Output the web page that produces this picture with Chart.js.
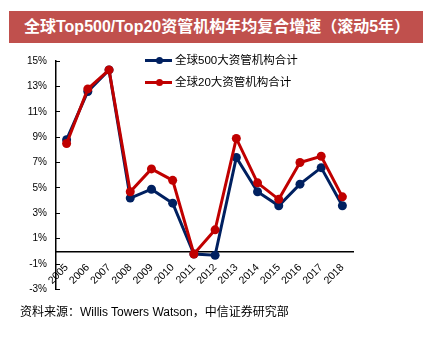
<!DOCTYPE html>
<html>
<head>
<meta charset="utf-8">
<script src="https://cdn.jsdelivr.net/npm/chart.js@4/dist/chart.umd.min.js"></script>
<style>
  html, body { margin:0; padding:0; background:#fff; }
  body { width:445px; height:359px; position:relative; overflow:hidden;
         font-family:"Liberation Sans", Arial, "Noto Sans CJK SC", sans-serif; }
  #title { position:absolute; left:9px; top:11px; width:414px; height:32px; background:#C0504D;
           color:#fff; font-weight:bold; font-size:16px; line-height:32px; padding-left:15px; box-sizing:border-box;
           white-space:nowrap; }
  #wrap { position:absolute; left:0; top:0; width:445px; height:359px; }
  #src { position:absolute; left:20px; top:302px; font-size:12px; color:#000; white-space:nowrap; }
  .leg { position:absolute; left:145px; font-size:11.5px; color:#000; white-space:nowrap; height:14px; line-height:14px; }
  .leg .ln { position:absolute; left:0; top:6px; width:27px; height:3px; }
  .leg .dt { position:absolute; left:11px; top:4px; width:7px; height:7px; border-radius:50%; }
  .leg .tx { position:absolute; left:30px; top:0; }
</style>
</head>
<body>
<div id="wrap"><canvas id="c" width="445" height="359"></canvas></div>
<div id="title">全球Top500/Top20资管机构年均复合增速（滚动5年）</div>
<div class="leg" style="top:53px"><div class="ln" style="background:#002060"></div><div class="dt" style="background:#002060"></div><span class="tx" id="l1"></span></div>
<div class="leg" style="top:75px"><div class="ln" style="background:#C00000"></div><div class="dt" style="background:#C00000"></div><span class="tx" id="l2"></span></div>
<div id="src">资料来源：Willis Towers Watson，中信证券研究部</div>
<script>
const years = ['2005','2006','2007','2008','2009','2010','2011','2012','2013','2014','2015','2016','2017','2018'];
const seriesNames = ['全球500大资管机构合计', '全球20大资管机构合计'];
const top500 = [8.8, 12.6, 14.3, 4.2, 4.9, 3.8, -0.2, -0.3, 7.4, 4.7, 3.6, 5.3, 6.6, 3.6];
const top20  = [8.5, 12.8, 14.3, 4.7, 6.5, 5.6, -0.2, 1.7, 8.9, 5.4, 4.1, 7.0, 7.5, 4.3];
const yTicks = { min: -3, max: 15, step: 2 };

document.getElementById('l1').textContent = seriesNames[0];
document.getElementById('l2').textContent = seriesNames[1];

const yFont = { family: '"Liberation Sans", Arial, sans-serif', size: 10 };
const xFont = { family: '"Liberation Sans", Arial, sans-serif', size: 10.5 };

new Chart(document.getElementById('c'), {
  type: 'line',
  data: {
    labels: years,
    datasets: [
      { label: seriesNames[0], data: top500, borderColor:'#002060', backgroundColor:'#002060',
        borderWidth:3, pointRadius:4.5, pointHoverRadius:4.5, pointBorderWidth:0, tension:0, order:1 },
      { label: seriesNames[1], data: top20, borderColor:'#C00000', backgroundColor:'#C00000',
        borderWidth:3, pointRadius:4.5, pointHoverRadius:4.5, pointBorderWidth:0, tension:0, order:0 }
    ]
  },
  options: {
    responsive:false, animation:false,
    layout: { padding: { left:0, top:61, right:92, bottom:69.5 } },
    plugins: { legend:{display:false}, tooltip:{enabled:false}, title:{display:false} },
    scales: {
      x: {
        position: { y: 0 },
        offset: true,
        grid: { display:false },
        border: { display:true, color:'#000', width:1.5 },
        ticks: { color:'#000', font: xFont, minRotation:45, maxRotation:45, autoSkip:false, padding:2 },
        afterFit: s => { s.height = 0; }
      },
      y: {
        min: yTicks.min, max: yTicks.max,
        grid: { display:true, drawOnChartArea:false, drawTicks:true, tickLength:-4, color:'#000', lineWidth:1 },
        border: { display:true, color:'#000', width:1.5 },
        ticks: { stepSize: yTicks.step, color:'#000', font: yFont, padding:13,
                 callback: v => v + '%' },
        afterFit: s => { s.width = 56; }
      }
    }
  }
});
</script>
</body>
</html>
